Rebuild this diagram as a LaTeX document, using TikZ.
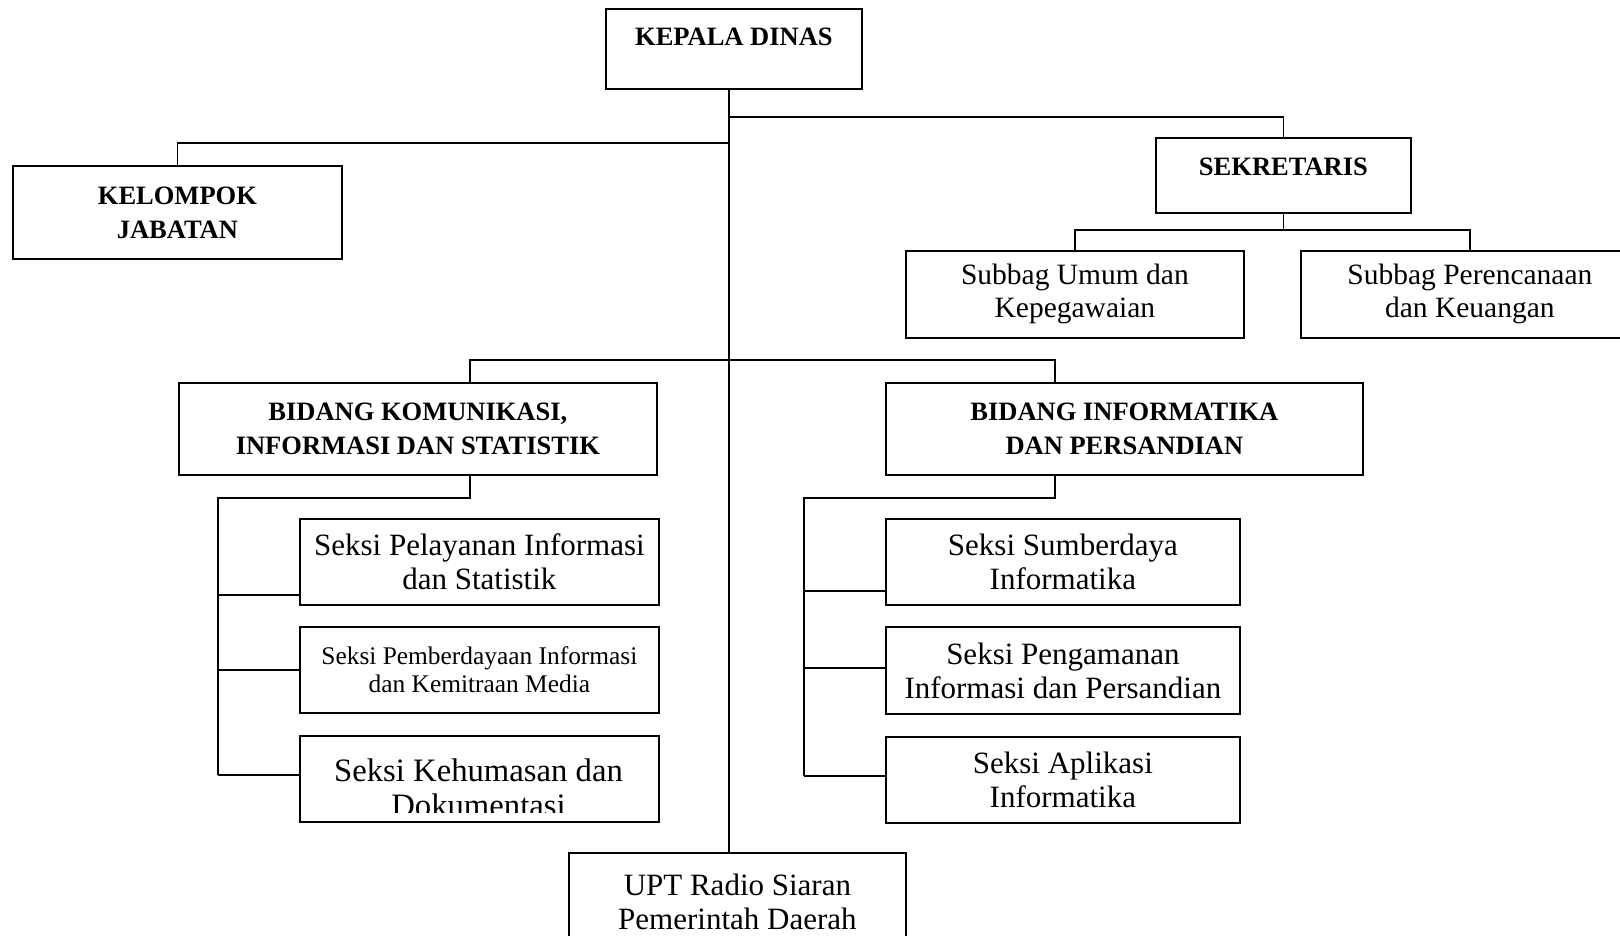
\documentclass[tikz,border=0pt]{standalone}
\usepackage{fontspec}
\setmainfont{Liberation Serif}
\begin{document}
\begin{tikzpicture}[x=1pt,y=-1pt,line width=1.8pt,
  box/.style={draw,line width=1.8pt,inner sep=0pt,align=center,anchor=north west},
  bld/.style={font=\fontsize{26.5}{34}\selectfont\bfseries},
  nrm/.style={font=\fontsize{31}{34}\selectfont},
  sub/.style={font=\fontsize{29.5}{33}\selectfont},
  sml/.style={font=\fontsize{25.4}{28}\selectfont},
  big/.style={font=\fontsize{32.7}{35}\selectfont}]
\useasboundingbox (0,0) rectangle (1620,936);
% boxes
\node[box,minimum width=256pt,minimum height=80pt,
  label={[bld,anchor=base,yshift=-38pt]north:KEPALA DINAS}] (kd) at (605,8) {};
\node[box,bld,minimum width=329pt,minimum height=93pt] (kj) at (12,165) {KELOMPOK\\JABATAN};
\node[box,minimum width=255pt,minimum height=75pt,
  label={[bld,anchor=base,yshift=-39pt]north:SEKRETARIS}] (sek) at (1155,137) {};
\node[box,sub,minimum width=338pt,minimum height=87pt] (su) at (905,250) {Subbag Umum dan\\Kepegawaian};
\node[box,sub,minimum width=338pt,minimum height=87pt] (sp) at (1300,250) {Subbag Perencanaan\\dan Keuangan};
\node[box,bld,minimum width=478pt,minimum height=92pt] (bk) at (178,382) {BIDANG KOMUNIKASI,\\INFORMASI DAN STATISTIK};
\node[box,bld,minimum width=477pt,minimum height=92pt] (bi) at (885,382) {BIDANG INFORMATIKA\\DAN PERSANDIAN};
\node[box,nrm,minimum width=359pt,minimum height=86pt] (s1) at (299,518) {Seksi Pelayanan Informasi\\dan Statistik};
\node[box,sml,minimum width=359pt,minimum height=86pt] (s2) at (299,626) {Seksi Pemberdayaan Informasi\\dan Kemitraan Media};
\node[box,minimum width=359pt,minimum height=86pt] (s3) at (299,735) {};
\begin{scope}
  \clip (s3.north west) rectangle (658,812);
  \node[big,align=center] (s3t) at (478.5,788) {Seksi Kehumasan dan\\Dokumentasi};
\end{scope}
\node[box,nrm,minimum width=354pt,minimum height=86pt] (r1) at (885,518) {Seksi Sumberdaya\\Informatika};
\node[box,nrm,minimum width=354pt,minimum height=87pt] (r2) at (885,626) {Seksi Pengamanan\\Informasi dan Persandian};
\node[box,nrm,minimum width=354pt,minimum height=86pt] (r3) at (885,736) {Seksi Aplikasi\\Informatika};
\node[box,nrm,minimum width=337pt,minimum height=98pt] (upt) at (568,852) {UPT Radio Siaran\\Pemerintah Daerah};
% helper coordinates
\coordinate (trunk) at (729,0);
\coordinate (bkc) at (470,0);
\coordinate (bic) at (1055,0);
\coordinate (lv) at (218,0);
\coordinate (rv) at (804,0);
\coordinate (hs) at (0,117);
\coordinate (hk) at (0,143);
\coordinate (hsub) at (0,230);
\coordinate (hb) at (0,360);
% connectors
\draw (kd.south -| trunk) -- (upt.north -| trunk);
\draw (trunk |- hs) -| (sek.north);
\draw (trunk |- hk) -| (kj.north);
\draw (sek.south) -- (sek.south |- hsub);
\draw (su.north) -- (su.north |- hsub) -- (sp.north |- hsub) -- (sp.north);
\draw (bk.north -| bkc) -- (bkc |- hb) -- (bic |- hb) -- (bi.north -| bic);
% left bidang
\draw (bk.south -| bkc) |- (lv |- 0,498) -- (lv |- 0,775);
\draw (lv |- 0,595) -- (s1.west |- 0,595);
\draw (lv |- 0,670) -- (s2.west |- 0,670);
\draw (lv |- 0,775) -- (s3.west |- 0,775);
% right bidang
\draw (bi.south -| bic) |- (rv |- 0,498) -- (rv |- 0,776);
\draw (rv |- 0,591) -- (r1.west |- 0,591);
\draw (rv |- 0,668) -- (r2.west |- 0,668);
\draw (rv |- 0,776) -- (r3.west |- 0,776);
\end{tikzpicture}
\end{document}
